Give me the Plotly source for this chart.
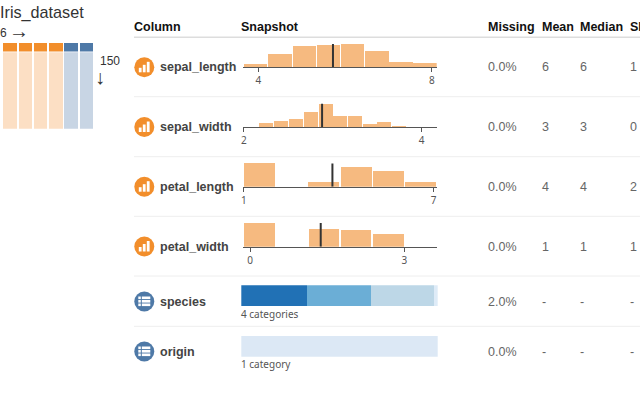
import plotly.graph_objects as go

# ---- data ----
dataset_name = "Iris_dataset"
n_columns = 6
n_rows = 150
header_labels = ["Column", "Snapshot", "Missing", "Mean", "Median", "SD"]
column_names = ["sepal_length", "sepal_width", "petal_length", "petal_width", "species", "origin"]
missing = ["0.0%", "0.0%", "0.0%", "0.0%", "2.0%", "0.0%"]
means = ["6", "3", "4", "1", "-", "-"]
medians = ["6", "3", "4", "1", "-", "-"]
sds = ["1", "0", "2", "1", "-", "-"]
thumb_kinds = ["num", "num", "num", "num", "cat", "cat"]

sl_x = [3.94, 4.50, 5.06, 5.62, 6.17, 6.73, 7.29, 7.84]
sl_y = [3, 13, 21.7, 22.7, 23.3, 16, 5, 4]
sw_x = [2.25, 2.42, 2.585, 2.75, 2.92, 3.08, 3.25, 3.42, 3.58, 3.75]
sw_y = [4, 6.3, 8.3, 14.7, 23.3, 11.3, 11, 3.3, 4.7, 0.7]
pl_x = [1.50, 2.52, 3.53, 4.55, 5.57, 6.59]
pl_y = [23.3, 0, 4.7, 20, 16, 4.7]
pw_x = [0.19, 0.81, 1.44, 2.06, 2.69, 3.31]
pw_y = [23.7, 0, 17.7, 17, 12.7, 0]
sl_mean, sw_mean, pl_mean, pw_mean = 5.72, 2.88, 3.80, 1.375
sl_ticks, sw_ticks, pl_ticks, pw_ticks = [4, 8], [2, 4], [1, 7], [0, 3]

species_counts = [50, 49, 48, 3]
origin_counts = [150]
species_note = "4 categories"
origin_note = "1 category"

# ---- styling / layout constants ----
W, H = 640, 400
ORANGE, BLUE = "#f28e2b", "#4e79a7"
L_ORANGE, L_BLUE = "#fcdfc4", "#c8d5e4"
BAR = "#f6ba80"
SPECIES_COLORS = ["#2171b5", "#6baed6", "#bdd7e7", "#deebf7"]
ORIGIN_COLOR = "#dce8f5"
SANS = "Liberation Sans"
SMALL = "Noto Sans"

fx = lambda p: p / W
fy = lambda p: 1 - p / H

fig = go.Figure()
layout = {}
ax_i = [0]


def new_axes(x0, x1, ytop, ybot, xcfg, ycfg):
    ax_i[0] += 1
    i = ax_i[0]
    s = "" if i == 1 else str(i)
    layout[f"xaxis{s}"] = dict(domain=[fx(x0), fx(x1)], anchor=f"y{s}", fixedrange=True, **xcfg)
    layout[f"yaxis{s}"] = dict(domain=[fy(ybot), fy(ytop)], anchor=f"x{s}", fixedrange=True, **ycfg)
    return f"x{s}", f"y{s}"


HIDDEN = dict(visible=False, showgrid=False, zeroline=False)

# thumbnail
cols = list(range(n_columns))
xa, ya = new_axes(2.3, 94.2, 42.7, 51.5, dict(HIDDEN, range=[-0.5, n_columns - 0.5]), dict(HIDDEN, range=[0, 1]))
fig.add_bar(x=cols, y=[1] * n_columns, xaxis=xa, yaxis=ya, width=0.88,
            marker=dict(color=[ORANGE if k == "num" else BLUE for k in thumb_kinds], line_width=0))
xa, ya = new_axes(2.3, 94.2, 52.3, 128.7, dict(HIDDEN, range=[-0.5, n_columns - 0.5]), dict(HIDDEN, range=[0, n_rows]))
fig.add_bar(x=cols, y=[n_rows] * n_columns, xaxis=xa, yaxis=ya, width=0.88,
            marker=dict(color=[L_ORANGE if k == "num" else L_BLUE for k in thumb_kinds], line_width=0))

# histograms
hists = [
    (sl_x, sl_y, 0.54, sl_mean, sl_ticks, [3.647, 8.11], 67.3),
    (sw_x, sw_y, 0.158, sw_mean, sw_ticks, [1.99, 4.17], 127.0),
    (pl_x, pl_y, 0.98, pl_mean, pl_ticks, [0.97, 7.10], 186.7),
    (pw_x, pw_y, 0.60, pw_mean, pw_ticks, [-0.136, 3.63], 246.7),
]
for xs, ys, w, mean, ticks, rng, base in hists:
    xcfg = dict(range=rng, showgrid=False, zeroline=False, showline=True, linecolor="#555555",
                linewidth=1.3, ticks="outside", ticklen=4, tickwidth=1, tickcolor="#555555",
                tickmode="array", tickvals=ticks, ticktext=[str(t) for t in ticks],
                tickfont=dict(family=SMALL, size=10, color="#555555"))
    xa, ya = new_axes(243, 436.7, base - 25, base, xcfg, dict(HIDDEN, range=[0, 25]))
    fig.add_bar(x=xs, y=ys, width=w, xaxis=xa, yaxis=ya, marker=dict(color=BAR, line_width=0))
    fig.add_scatter(x=[mean, mean], y=[0, max(ys)], mode="lines", xaxis=xa, yaxis=ya,
                    line=dict(color="#333333", width=2))

# category bars
xa, ya = new_axes(241.3, 437.7, 285.3, 306, dict(HIDDEN, range=[0, sum(species_counts)]), dict(HIDDEN, range=[0, 1]))
for c, col in zip(species_counts, SPECIES_COLORS):
    fig.add_bar(x=[c], y=[0.5], width=1, orientation="h", xaxis=xa, yaxis=ya,
                marker=dict(color=col, line_width=0))
xa, ya = new_axes(241.3, 437.7, 335.7, 356.7, dict(HIDDEN, range=[0, sum(origin_counts)]), dict(HIDDEN, range=[0, 1]))
for c in origin_counts:
    fig.add_bar(x=[c], y=[0.5], width=1, orientation="h", xaxis=xa, yaxis=ya,
                marker=dict(color=ORIGIN_COLOR, line_width=0))

# full-canvas hidden axes that carry every text label
TXA, TYA = new_axes(0, W, 0, H, dict(HIDDEN, range=[0, W]), dict(HIDDEN, range=[H, 0]))

# ---- text ----
ann = []


def text(x, y, s, size=12.5, color="#333333", bold=False, family=SANS, anchor="left"):
    ann.append(dict(x=x, y=y, xref=TXA, yref=TYA, text=f"<b>{s}</b>" if bold else s,
                    showarrow=False, xanchor=anchor, yanchor="middle", borderpad=0, borderwidth=0,
                    align="left", font=dict(family=family, size=size, color=color)))


text(0, 12, dataset_name, size=16.2)
text(0, 33, str(n_columns), size=12)
text(9, 30.5, "→", size=20)
text(100, 61, str(n_rows), size=12)
text(95, 77, "↓", size=20)

header_x = [134, 241, 488, 542, 580, 630]
for x, s in zip(header_x, header_labels):
    text(x, 27, s, bold=True, color="#111111")

row_y = [67.3, 127, 186.7, 246.5, 301.5, 351.5]
for i, y in enumerate(row_y):
    text(160, y, column_names[i], bold=True, color="#444444")
    text(488, y, missing[i], color="#666666")
    text(542, y, means[i], color="#666666")
    text(580, y, medians[i], color="#666666")
    text(630, y, sds[i], color="#666666")
text(241, 314, species_note, size=10, family=SMALL, color="#555555")
text(241, 364, origin_note, size=10, family=SMALL, color="#555555")

# ---- separators & icons ----
shapes = []


def rect(x0, y0, x1, y1, color):
    shapes.append(dict(type="rect", xref="paper", yref="paper", x0=fx(x0), x1=fx(x1), y0=fy(y0), y1=fy(y1),
                       fillcolor=color, line_width=0, layer="above"))


def hline(y, color, w):
    shapes.append(dict(type="line", xref="paper", yref="paper", x0=fx(134), x1=1, y0=fy(y), y1=fy(y),
                       line=dict(color=color, width=w), layer="below"))


hline(37.3, "#dddddd", 1.5)
for y in [96.7, 156.7, 216.3, 276, 326.3]:
    hline(y, "#eeeeee", 1)

for i, y in enumerate(row_y):
    cx = 144.3
    num = thumb_kinds[i] == "num"
    shapes.append(dict(type="circle", xref="paper", yref="paper", x0=fx(cx - 10), x1=fx(cx + 10),
                       y0=fy(y + 10), y1=fy(y - 10), fillcolor=ORANGE if num else BLUE, line_width=0,
                       layer="above"))
    if num:
        rect(cx - 5.5, y + 0.5, cx - 2.7, y + 5, "white")
        rect(cx - 1.5, y - 2.5, cx + 1.3, y + 5, "white")
        rect(cx + 2.5, y - 5.5, cx + 5.3, y + 5, "white")
    else:
        for dy in (-5, -1.5, 2):
            rect(cx - 6, y + dy, cx - 3.5, y + dy + 2.6, "white")
            rect(cx - 2.5, y + dy, cx + 6, y + dy + 2.6, "white")

fig.update_layout(
    width=W, height=H, margin=dict(l=0, r=0, t=0, b=0, pad=0, autoexpand=False), showlegend=False,
    paper_bgcolor="white", plot_bgcolor="rgba(0,0,0,0)", barmode="stack",
    annotations=ann, shapes=shapes, **layout,
)
fig.write_html("out.html", config=dict(displayModeBar=False),
               post_script="document.body.style.margin='0';document.documentElement.style.overflow='hidden';")
